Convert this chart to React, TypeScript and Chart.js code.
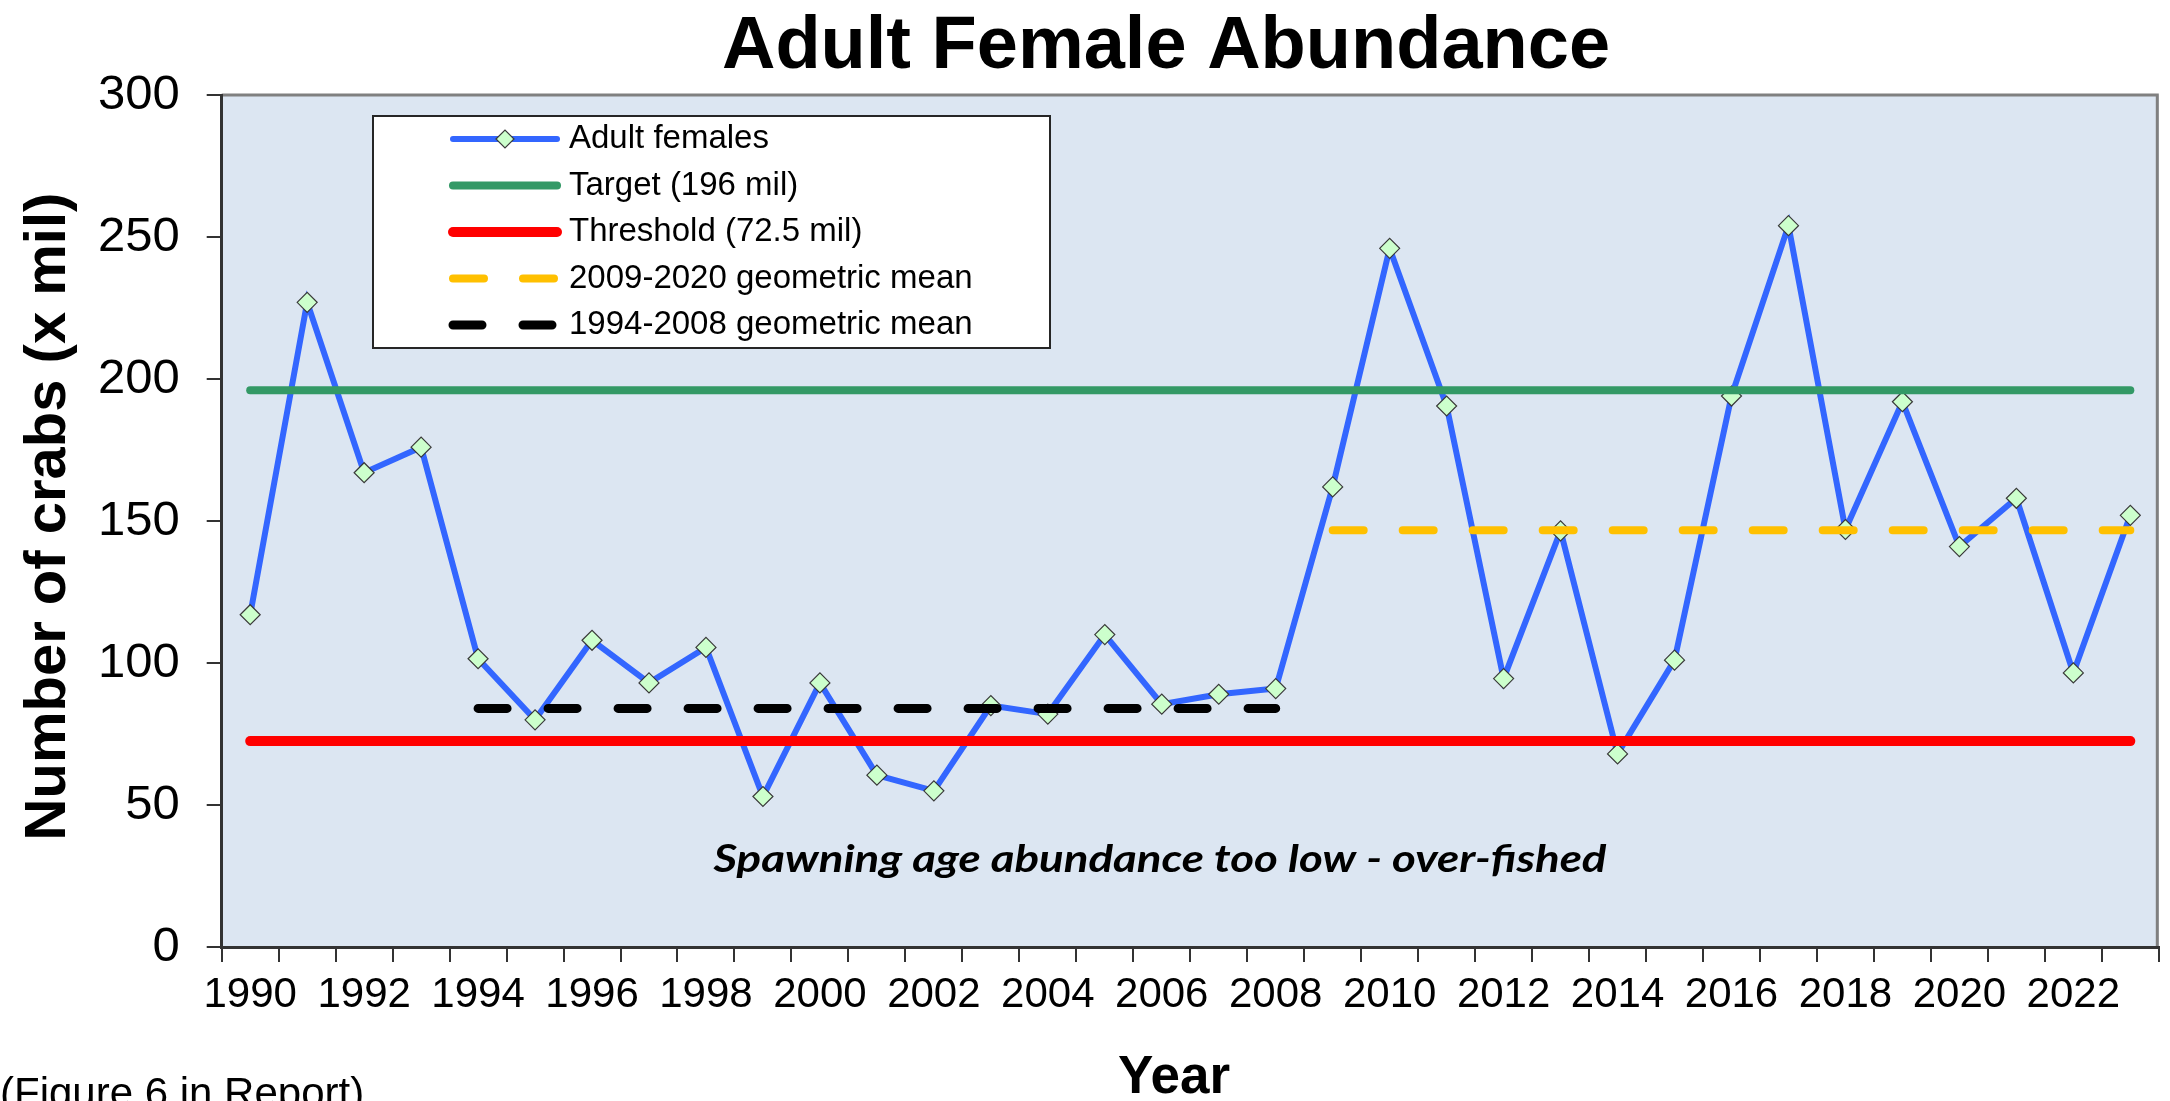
import React, { useEffect, useRef } from 'react';
import { Chart, registerables } from 'chart.js';

Chart.register(...registerables);

// ---------------- data ----------------
const YEARS = [
  '1990', '1991', '1992', '1993', '1994', '1995', '1996', '1997', '1998', '1999',
  '2000', '2001', '2002', '2003', '2004', '2005', '2006', '2007', '2008', '2009',
  '2010', '2011', '2012', '2013', '2014', '2015', '2016', '2017', '2018', '2019',
  '2020', '2021', '2022', '2023',
];

const ADULT_FEMALES = [
  117, 227, 167, 176, 101.5, 80, 108, 93, 105.5, 53,
  93, 60.5, 55, 85, 82, 110, 85.5, 89, 91, 162,
  246, 190.5, 94.5, 146.5, 68, 101, 194, 254, 147, 192,
  141, 158, 96.5, 152,
];

const TARGET_LEVEL = 196;
const THRESHOLD_LEVEL = 72.5;
const GEOMEAN_2009_2020 = 146.7;
const GEOMEAN_1994_2008 = 84;

const REF_LINE_SPAN = ['1990', '2023'];
const GEOMEAN_2009_SPAN = ['2009', '2023'];
const GEOMEAN_1994_SPAN = ['1994', '2008'];

const Y_MIN = 0;
const Y_MAX = 300;
const Y_STEP = 50;

const LEGEND_LABELS = [
  'Adult females',
  'Target (196 mil)',
  'Threshold (72.5 mil)',
  '2009-2020 geometric mean',
  '1994-2008 geometric mean',
];

const TITLE = 'Adult Female Abundance';
const Y_TITLE = 'Number of crabs (x mil)';
const X_TITLE = 'Year';
const CAPTION = '(Figure 6 in Report)';
const ANNOTATION = 'Spawning age abundance too low - over-fished';

const SANS = "'Liberation Sans', Arial, Helvetica, sans-serif";

// ---------------- plugin for decorations ----------------
const decorPlugin = {
  id: 'decor',
  beforeDraw(chart: any) {
    const { ctx, chartArea: a } = chart;
    ctx.save();
    ctx.fillStyle = '#ffffff';
    ctx.fillRect(0, 0, chart.width, chart.height);
    ctx.fillStyle = '#DCE6F2';
    ctx.fillRect(a.left, a.top, a.right - a.left, a.bottom - a.top);
    ctx.strokeStyle = '#808080';
    ctx.lineWidth = 3;
    ctx.beginPath();
    ctx.moveTo(a.left, a.top);
    ctx.lineTo(a.right - 1.5, a.top);
    ctx.lineTo(a.right - 1.5, a.bottom);
    ctx.stroke();
    ctx.restore();
  },
  afterDraw(chart: any) {
    const { ctx } = chart;
    ctx.save();
    ctx.fillStyle = '#000000';

    // title
    ctx.font = `bold 74px ${SANS}`;
    ctx.textAlign = 'center';
    ctx.textBaseline = 'alphabetic';
    ctx.fillText(TITLE, 1166, 68);

    // x title
    ctx.font = `bold 53px ${SANS}`;
    ctx.fillText(X_TITLE, 1174, 1093);

    // y title
    ctx.save();
    ctx.translate(64.5, 516.5);
    ctx.rotate(-Math.PI / 2);
    ctx.font = `bold 58px ${SANS}`;
    ctx.fillText(Y_TITLE, 0, 0);
    ctx.restore();

    // caption
    ctx.font = `42px ${SANS}`;
    ctx.textAlign = 'left';
    ctx.fillText(CAPTION, 0, 1107);

    // annotation
    ctx.save();
    ctx.font = `italic bold 38px Lato, 'Open Sans', sans-serif`;
    const w = ctx.measureText(ANNOTATION).width;
    ctx.translate(1160, 872);
    ctx.scale(893 / w, 1);
    ctx.textAlign = 'center';
    ctx.fillText(ANNOTATION, 0, 0);
    ctx.restore();

    // legend
    const bx = 373, by = 116, bw = 677, bh = 232;
    ctx.fillStyle = '#ffffff';
    ctx.fillRect(bx, by, bw, bh);
    ctx.strokeStyle = '#262626';
    ctx.lineWidth = 2;
    ctx.strokeRect(bx, by, bw, bh);

    const datasets = chart.data.datasets;
    const x0 = 453, x1 = 557;
    for (let i = 0; i < datasets.length; i++) {
      const ds = datasets[i];
      const yy = 139 + i * 46.5;
      ctx.save();
      ctx.strokeStyle = ds.borderColor;
      ctx.lineWidth = ds.borderWidth;
      ctx.lineCap = 'round';
      ctx.setLineDash(ds.borderDash || []);
      ctx.beginPath();
      ctx.moveTo(x0, yy);
      ctx.lineTo(x1, yy);
      ctx.stroke();
      ctx.restore();
      if (ds.pointStyle === 'rectRot') {
        const r = 9;
        const cx = 505;
        ctx.beginPath();
        ctx.moveTo(cx - r, yy);
        ctx.lineTo(cx, yy - r);
        ctx.lineTo(cx + r, yy);
        ctx.lineTo(cx, yy + r);
        ctx.closePath();
        ctx.fillStyle = ds.pointBackgroundColor;
        ctx.fill();
        ctx.strokeStyle = ds.pointBorderColor;
        ctx.lineWidth = ds.pointBorderWidth;
        ctx.stroke();
      }
      ctx.fillStyle = '#000000';
      ctx.font = `33px ${SANS}`;
      ctx.textAlign = 'left';
      ctx.textBaseline = 'alphabetic';
      ctx.fillText(LEGEND_LABELS[i], 569, yy + 9);
    }
    ctx.restore();
  },
};

export default function App() {
  const canvasRef = useRef<HTMLCanvasElement | null>(null);

  useEffect(() => {
    document.body.style.margin = '0';
    document.body.style.overflow = 'hidden';
    const canvas = canvasRef.current;
    if (!canvas) return;

    const seg = (span: string[], y: number) => [
      { x: span[0], y },
      { x: span[1], y },
    ];

    const chart = new Chart(canvas, {
      type: 'line',
      data: {
        labels: YEARS,
        datasets: [
          {
            label: LEGEND_LABELS[0],
            data: ADULT_FEMALES,
            borderColor: '#3366FF',
            borderWidth: 6,
            tension: 0,
            pointStyle: 'rectRot',
            pointRadius: 10,
            pointBackgroundColor: '#CCFFCC',
            pointBorderColor: '#3a3a3a',
            pointBorderWidth: 1.2,
            order: 10,
          },
          {
            label: LEGEND_LABELS[1],
            data: seg(REF_LINE_SPAN, TARGET_LEVEL),
            borderColor: '#339966',
            borderWidth: 8,
            borderCapStyle: 'round',
            pointRadius: 0,
            order: 1,
          },
          {
            label: LEGEND_LABELS[2],
            data: seg(REF_LINE_SPAN, THRESHOLD_LEVEL),
            borderColor: '#FF0000',
            borderWidth: 10,
            borderCapStyle: 'round',
            pointRadius: 0,
            order: 2,
          },
          {
            label: LEGEND_LABELS[3],
            data: seg(GEOMEAN_2009_SPAN, GEOMEAN_2009_2020),
            borderColor: '#FFC000',
            borderWidth: 8,
            borderDash: [31, 39],
            borderCapStyle: 'round',
            pointRadius: 0,
            order: 3,
          },
          {
            label: LEGEND_LABELS[4],
            data: seg(GEOMEAN_1994_SPAN, GEOMEAN_1994_2008),
            borderColor: '#000000',
            borderWidth: 9,
            borderDash: [29, 41],
            borderCapStyle: 'round',
            pointRadius: 0,
            order: 4,
          },
        ] as any,
      },
      options: {
        responsive: false,
        animation: false,
        devicePixelRatio: 1,
        layout: { padding: { left: 0, right: 2170 - 2160.4, top: 95, bottom: 0 } },
        plugins: {
          legend: { display: false },
          title: { display: false },
          tooltip: { enabled: false },
        },
        scales: {
          x: {
            type: 'category',
            offset: true,
            grid: {
              offset: true,
              drawOnChartArea: false,
              drawTicks: true,
              tickLength: 15,
              color: '#333333',
              lineWidth: 2,
            },
            border: { display: true, color: '#333333', width: 3 },
            ticks: {
              autoSkip: false,
              maxRotation: 0,
              minRotation: 0,
              padding: 8,
              color: '#000000',
              font: { family: SANS, size: 42 },
              callback: (_v: any, i: number) => (i % 2 === 0 ? YEARS[i] : ''),
            },
            afterFit: (s: any) => {
              s.height = 1101 - 947;
            },
          },
          y: {
            min: Y_MIN,
            max: Y_MAX,
            grid: {
              drawOnChartArea: false,
              drawTicks: true,
              tickLength: 15,
              color: '#333333',
              lineWidth: 2,
            },
            border: { display: true, color: '#333333', width: 3 },
            ticks: {
              stepSize: Y_STEP,
              padding: 27,
              color: '#000000',
              font: { family: SANS, size: 49 },
            },
            afterFit: (s: any) => {
              s.width = 221.7;
            },
          },
        },
      } as any,
      plugins: [decorPlugin],
    });

    return () => {
      chart.destroy();
    };
  }, []);

  return (
    <canvas
      ref={canvasRef}
      width={2170}
      height={1101}
      style={{ display: 'block', width: '2170px', height: '1101px' }}
    />
  );
}
